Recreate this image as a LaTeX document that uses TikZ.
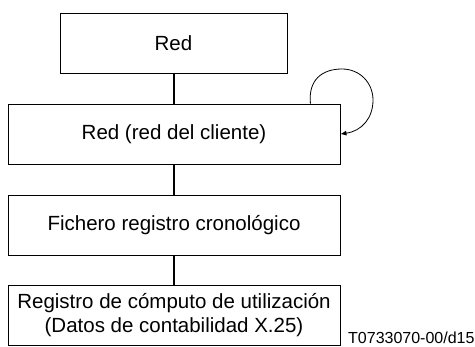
\documentclass[tikz,border=0pt]{standalone}
\usepackage{fontspec}
\setmainfont{Liberation Sans}
\usetikzlibrary{arrows.meta, positioning}

\begin{document}
\begin{tikzpicture}[x=1pt,y=-1pt,
        box/.style={draw, line width=0.9pt, minimum height=60pt, inner sep=0pt,
                    align=center, font=\fontsize{20.5}{24}\selectfont},
        link/.style={line width=1.2pt}]
            \useasboundingbox (0,0) rectangle (475,347);

            % the four levels, one under the other
            \node[box, minimum width=227pt] (red) at (173.5,43) {Red};
            \node[box, minimum width=332pt] (cliente) at (174,134) {Red (red del cliente)};
            \node[box, minimum width=332pt] (fichero) at (174,225) {Fichero registro cronológico};
            \node[box, minimum width=332pt] (computo) at (174,315.5)
                {Registro de cómputo de utilización\\(Datos de contabilidad X.25)};

            \draw[link] (red.south -| cliente.north) -- (cliente.north);
            \draw[link] (cliente) -- (fichero);
            \draw[link] (fichero) -- (computo);

            % the loop back onto the client network
            \coordinate (loopstart) at ([xshift=-30pt]cliente.north east);
            \draw[line width=0.8pt, -{Latex[length=6pt,width=5pt]}] (loopstart)
                .. controls (308,80) and (322,69) .. (342,69)
                .. controls (360,69) and (373,83) .. (373,100)
                .. controls (373,118) and (362,131) .. (cliente.east);

            \node[anchor=base west, inner sep=0pt, font=\fontsize{16}{18}\selectfont] (ref) at (348,344) {T0733070-00/d15};
        \end{tikzpicture}
\end{document}
